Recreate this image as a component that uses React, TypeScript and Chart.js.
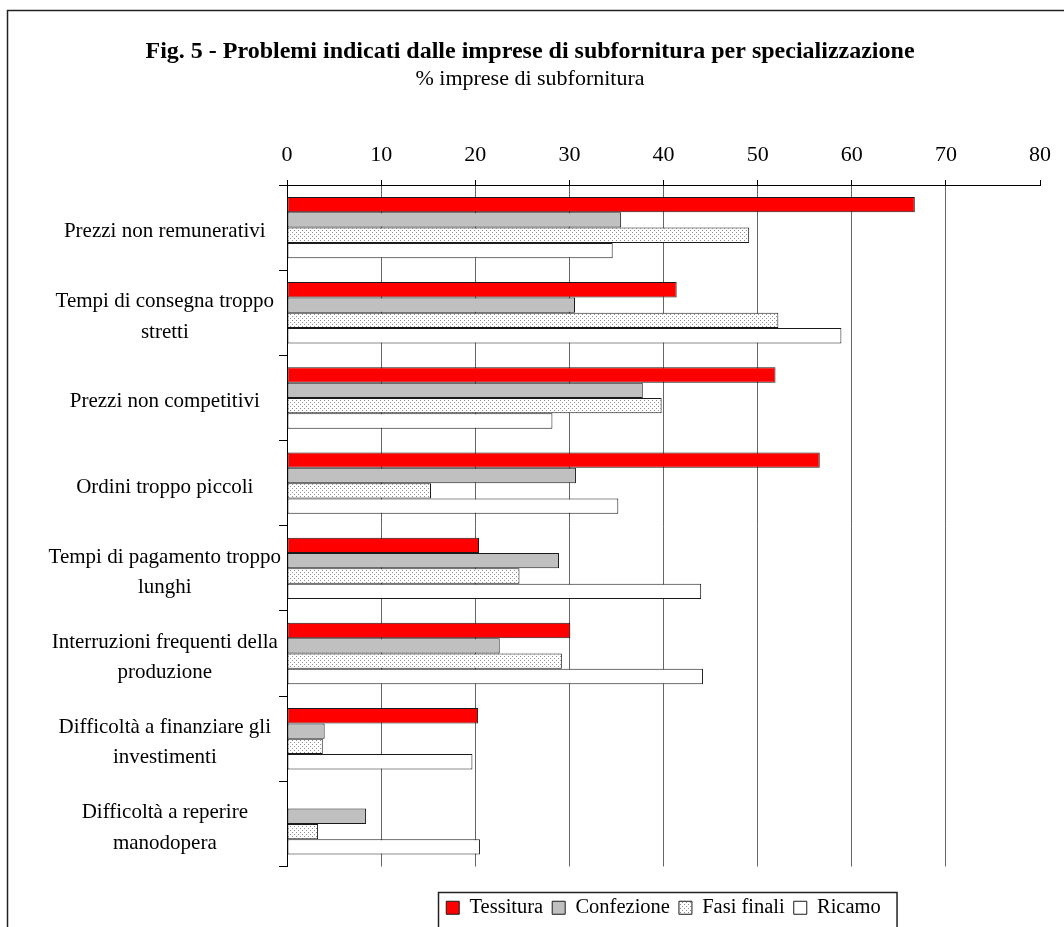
import React, { useEffect, useRef } from 'react';
import { Chart, registerables } from 'chart.js';

Chart.register(...registerables);

const FONT = "'Liberation Serif', 'Times New Roman', serif";

const titleText = 'Fig. 5 - Problemi indicati dalle imprese di subfornitura per specializzazione';
const subtitleText = '% imprese di subfornitura';

const categories: (string | string[])[] = [
  'Prezzi non remunerativi',
  ['Tempi di consegna troppo', 'stretti'],
  'Prezzi non competitivi',
  'Ordini troppo piccoli',
  ['Tempi di pagamento troppo', 'lunghi'],
  ['Interruzioni frequenti della', 'produzione'],
  ['Difficoltà a finanziare gli', 'investimenti'],
  ['Difficoltà a reperire', 'manodopera'],
];

const seriesNames = ['Tessitura', 'Confezione', 'Fasi finali', 'Ricamo'];
const tessitura = [66.7, 41.4, 51.9, 56.6, 20.4, 30.1, 20.3, 0];
const confezione = [35.5, 30.6, 37.8, 30.7, 28.9, 22.6, 4.0, 8.4];
const fasiFinali = [49.1, 52.2, 39.8, 15.3, 24.7, 29.2, 3.8, 3.3];
const ricamo = [34.6, 58.9, 28.2, 35.2, 44.0, 44.2, 19.7, 20.5];

const axisMin = 0;
const axisMax = 80;
const axisStep = 10;

// Dotted fill used for the "Fasi finali" bars
function makeDotPattern(ctx: CanvasRenderingContext2D): CanvasPattern | string {
  const c = document.createElement('canvas');
  c.width = 4;
  c.height = 4;
  const p = c.getContext('2d');
  if (!p) return '#eee';
  p.fillStyle = '#ffffff';
  p.fillRect(0, 0, 4, 4);
  p.fillStyle = '#8f8f8f';
  p.fillRect(0, 0, 1, 1);
  p.fillRect(2, 2, 1, 1);
  return ctx.createPattern(c, 'repeat') || '#eee';
}

// Outer frame lines (left and top edges of the figure)
const framePlugin = {
  id: 'frame',
  beforeDraw(chart: any) {
    const ctx = chart.ctx;
    ctx.save();
    ctx.fillStyle = '#ffffff';
    ctx.fillRect(0, 0, chart.width, chart.height);
    ctx.strokeStyle = '#222';
    ctx.lineWidth = 1.5;
    ctx.beginPath();
    ctx.moveTo(7.5, chart.height + 2);
    ctx.lineTo(7.5, 10.5);
    ctx.lineTo(chart.width + 2, 10.5);
    ctx.stroke();
    ctx.restore();
  },
};

// Box drawn around the legend items
const legendBoxPlugin = {
  id: 'legendBox',
  afterDraw(chart: any) {
    const legend = chart.legend;
    if (!legend || !legend.legendHitBoxes || !legend.legendHitBoxes.length) return;
    const hb = legend.legendHitBoxes;
    const first = hb[0];
    const last = hb[hb.length - 1];
    const left = first.left - 8;
    const right = last.left + last.width + 16;
    const top = first.top + first.height / 2 - 16;
    const ctx = chart.ctx;
    ctx.save();
    ctx.strokeStyle = '#222';
    ctx.lineWidth = 1.5;
    ctx.strokeRect(Math.round(left) + 0.5, Math.round(top) + 0.5, right - left, chart.height + 10 - top);
    ctx.restore();
  },
};

export default function App() {
  const canvasRef = useRef<HTMLCanvasElement | null>(null);

  useEffect(() => {
    const canvas = canvasRef.current;
    if (!canvas) return;
    const ctx = canvas.getContext('2d');
    if (!ctx) return;
    const dots = makeDotPattern(ctx);

    const colors = ['#ff0000', '#c0c0c0', dots, '#ffffff'];
    const values = [tessitura, confezione, fasiFinali, ricamo];

    const chart = new Chart(ctx, {
      type: 'bar',
      data: {
        labels: categories,
        datasets: seriesNames.map((name, i) => ({
          label: name,
          data: values[i],
          xAxisID: 'x',
          yAxisID: 'y',
          backgroundColor: colors[i] as any,
          borderColor: '#1a1a1a',
          borderWidth: 1,
          borderSkipped: false,
          categoryPercentage: 0.72,
          barPercentage: 1.0,
        })),
      },
      options: {
        indexAxis: 'y',
        responsive: false,
        animation: false,
        devicePixelRatio: 1,
        layout: { padding: { left: 0, right: 4, top: 0, bottom: -1 } },
        plugins: {
          title: {
            display: true,
            text: titleText,
            color: '#000',
            font: { family: FONT, size: 24, weight: 'bold', lineHeight: 1.2 },
            padding: { top: 37.6, bottom: 0 },
          },
          subtitle: {
            display: true,
            text: subtitleText,
            color: '#000',
            font: { family: FONT, size: 22, weight: 'normal', lineHeight: 1.2 },
            padding: { top: 0, bottom: 0 },
          },
          legend: {
            display: true,
            position: 'bottom',
            fullSize: false,
            labels: {
              color: '#000',
              font: { family: FONT, size: 20.5 },
              boxWidth: 13,
              boxHeight: 13,
              padding: 9,
            },
          },
          tooltip: { enabled: false },
        },
        scales: {
          y: {
            type: 'category',
            position: 'left',
            offset: true,
            ticks: {
              color: '#000',
              padding: -2,
              crossAlign: 'center',
              autoSkip: false,
              labelOffset: 4,
              font: { family: FONT, size: 21, lineHeight: 1.45 },
            },
            grid: {
              offset: true,
              drawOnChartArea: false,
              drawTicks: true,
              tickLength: 8,
              color: '#000',
              tickColor: '#000',
            },
            border: { display: true, color: '#000', width: 1 },
            afterFit: (s: any) => {
              s.width = 287;
            },
          },
          x: {
            type: 'linear',
            position: 'top',
            min: axisMin,
            max: axisMax,
            ticks: {
              stepSize: axisStep,
              color: '#000',
              padding: 12,
              font: { family: FONT, size: 22 },
            },
            grid: {
              color: (c: any) => (c.tick && (c.tick.value === axisMax || c.tick.value === axisMin) ? 'rgba(0,0,0,0)' : '#666'),
              tickColor: '#000',
              tickLength: 5,
              lineWidth: 1,
            },
            border: { display: true, color: '#000', width: 1 },
            afterFit: (s: any) => {
              s.height = 92.2;
            },
          },
          gap: {
            type: 'linear',
            axis: 'x',
            position: 'bottom',
            display: true,
            ticks: { display: false },
            grid: { display: false },
            border: { display: false },
            afterFit: (s: any) => {
              s.height = 22;
            },
          },
          rightGap: {
            type: 'linear',
            axis: 'y',
            position: 'right',
            display: true,
            ticks: { display: false },
            grid: { display: false },
            border: { display: false },
            afterFit: (s: any) => {
              s.width = 20;
            },
          },
        },
      } as any,
      plugins: [framePlugin, legendBoxPlugin],
    });

    return () => {
      chart.destroy();
    };
  }, []);

  return (
    <div style={{ position: 'absolute', left: 0, top: 0, width: 1064, height: 927, background: '#fff' }}>
      <canvas ref={canvasRef} width={1064} height={927} style={{ display: 'block', width: 1064, height: 927 }} />
    </div>
  );
}
